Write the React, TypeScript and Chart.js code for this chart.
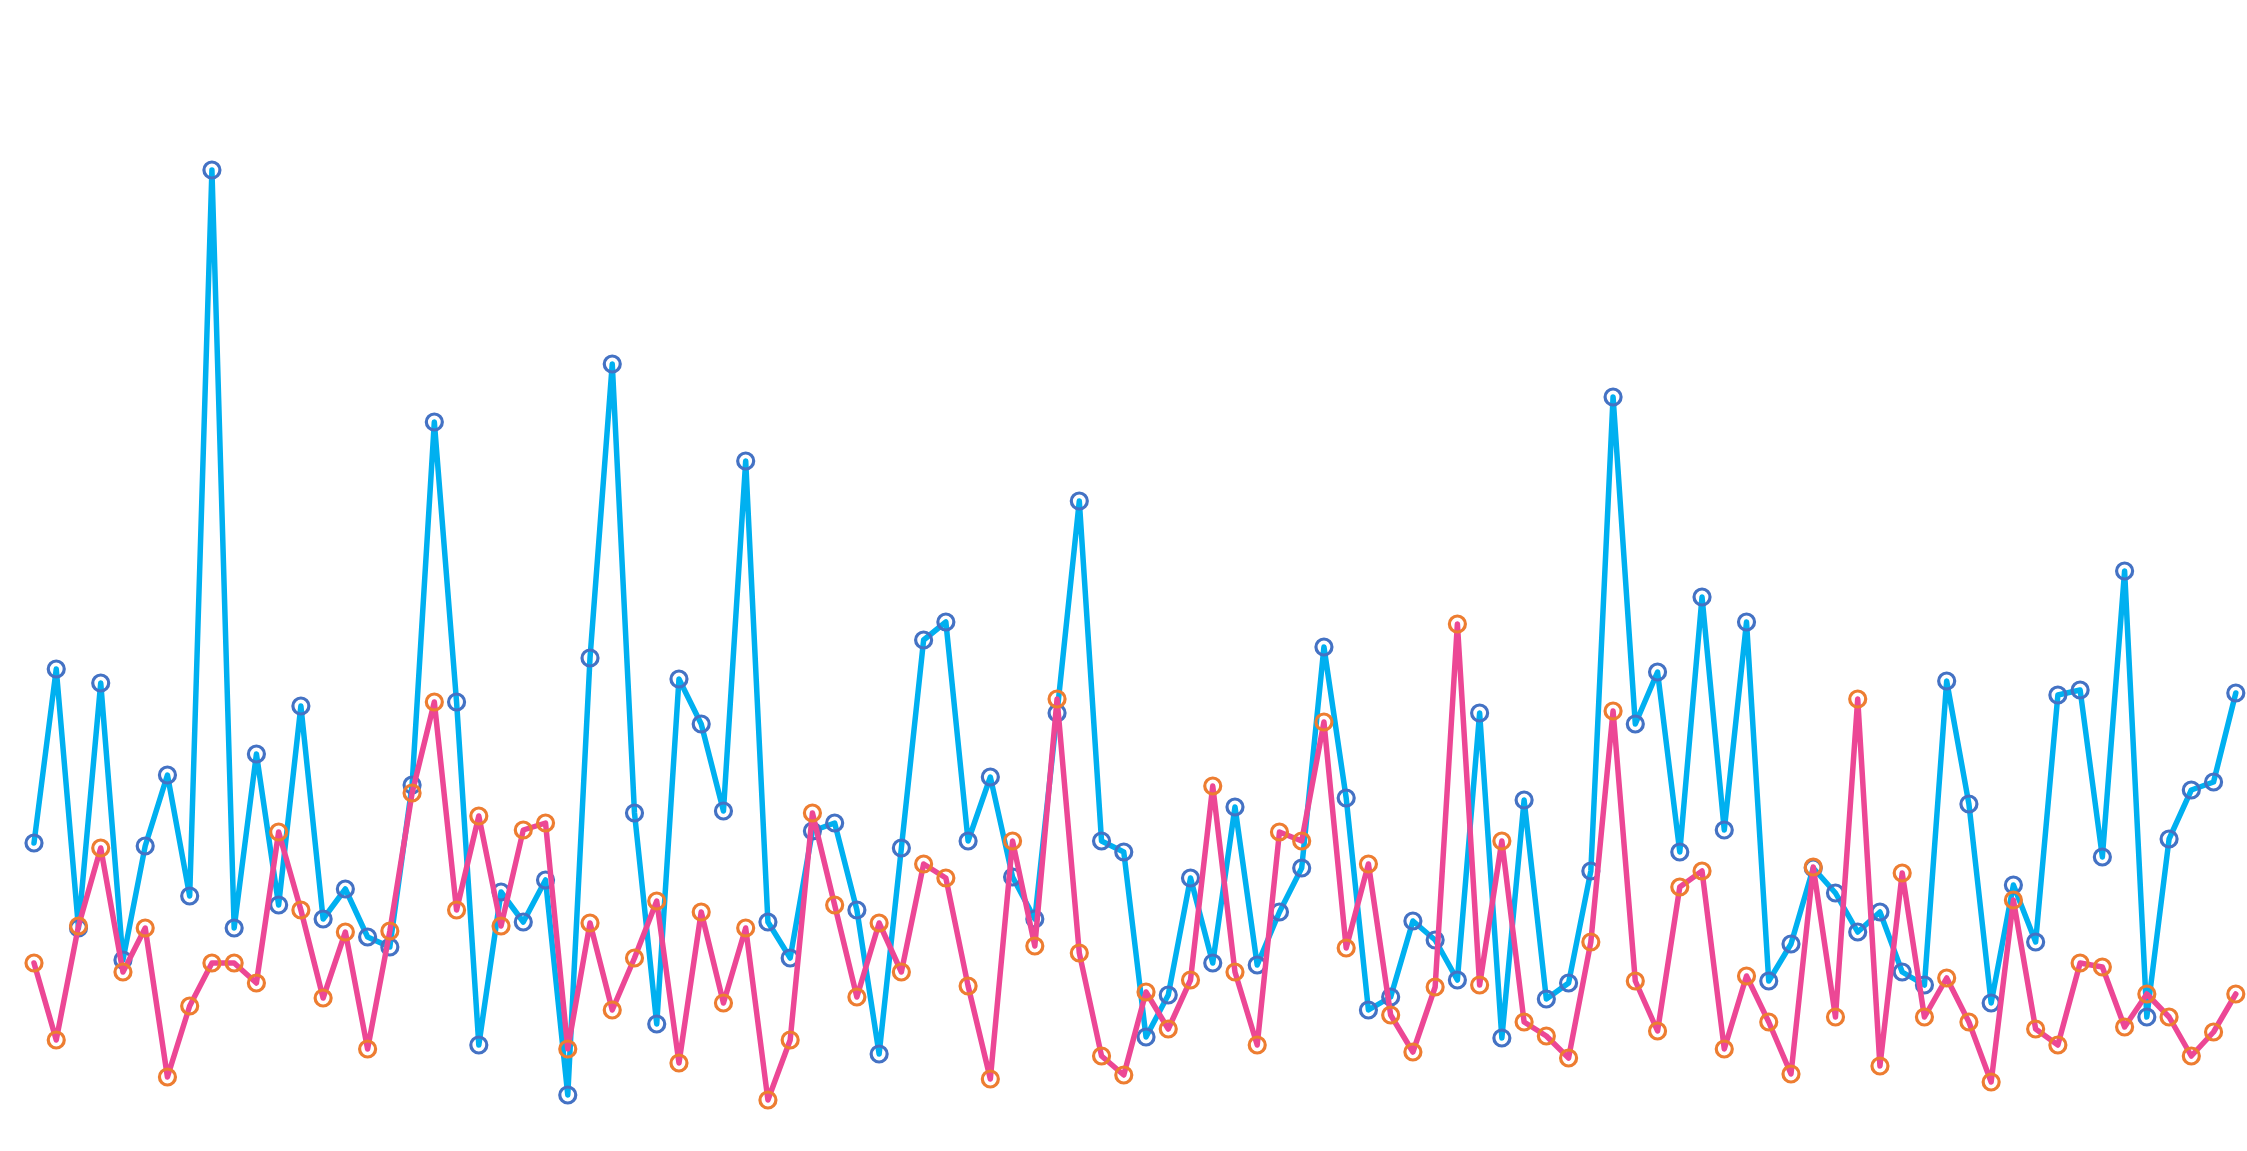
import React, { useEffect, useRef } from "react";
import { Chart, registerables } from "chart.js";

Chart.register(...registerables);

const labels: string[] = Array.from({ length: 100 }, (_, i) => String(i + 1));

const seriesA: number[] = [
  28.7, 46.1, 20.2, 44.7, 17.0, 28.4, 35.5, 23.4, 96.0, 20.2,
  37.6, 22.5, 42.4, 21.1, 24.1, 19.3, 18.3, 34.5, 70.8, 42.8,
  8.5, 23.8, 20.8, 25.0, 3.5, 47.2, 76.6, 31.7, 10.6, 45.1,
  40.6, 31.9, 66.9, 20.8, 17.2, 29.9, 30.7, 22.0, 7.6, 28.2,
  49.0, 50.8, 28.9, 35.3, 25.3, 21.1, 41.7, 62.9, 28.9, 27.8,
  9.3, 13.5, 25.2, 16.7, 32.3, 16.5, 21.8, 26.2, 48.3, 33.2,
  12.0, 13.3, 20.9, 19.0, 15.0, 41.7, 9.2, 33.0, 13.1, 14.7,
  25.9, 73.3, 40.6, 45.8, 27.8, 53.3, 30.0, 50.8, 14.9, 18.6,
  26.2, 23.7, 19.8, 21.8, 15.8, 14.5, 44.9, 32.6, 12.7, 24.5,
  18.8, 43.5, 44.0, 27.3, 55.9, 11.3, 29.1, 34.0, 34.8, 43.7,
];

const seriesB: number[] = [
  16.7, 9.0, 20.4, 28.2, 15.8, 20.2, 5.3, 12.4, 16.7, 16.7,
  14.7, 29.8, 22.0, 13.2, 19.8, 8.1, 19.9, 33.7, 42.8, 22.0,
  31.4, 20.4, 30.0, 30.7, 8.1, 20.7, 12.0, 17.2, 22.9, 6.7,
  21.8, 12.7, 20.2, 3.0, 9.0, 31.7, 22.5, 13.3, 20.7, 15.8,
  26.6, 25.2, 14.4, 5.1, 28.9, 18.4, 43.1, 17.7, 7.4, 5.5,
  13.8, 10.1, 15.0, 34.4, 15.8, 8.5, 29.8, 28.9, 40.8, 18.2,
  26.6, 11.5, 7.8, 14.3, 50.6, 14.5, 28.9, 10.8, 9.4, 7.2,
  18.8, 41.9, 14.9, 9.9, 24.3, 25.9, 8.1, 15.4, 10.8, 5.6,
  26.3, 11.3, 43.1, 6.4, 25.7, 11.3, 15.2, 10.8, 4.8, 23.0,
  10.1, 8.5, 16.7, 16.3, 10.3, 13.6, 11.3, 7.4, 9.8, 13.6,
];

export default function App() {
  const ref = useRef<HTMLCanvasElement | null>(null);

  useEffect(() => {
    if (!ref.current) return;
    const chart = new Chart(ref.current, {
      type: "line",
      data: {
        labels,
        datasets: [
          {
            label: "Series 1",
            data: seriesA,
            borderColor: "#00B0F0",
            borderWidth: 5.5,
            borderJoinStyle: "round",
            borderCapStyle: "round",
            pointRadius: 8,
            pointBorderWidth: 3.2,
            pointBorderColor: "#4472C4",
            pointBackgroundColor: "rgba(0,0,0,0)",
            tension: 0,
            clip: false,
            order: 2,
          },
          {
            label: "Series 2",
            data: seriesB,
            borderColor: "#EC4795",
            borderWidth: 5.5,
            borderJoinStyle: "round",
            borderCapStyle: "round",
            pointRadius: 8,
            pointBorderWidth: 3.2,
            pointBorderColor: "#ED7D31",
            pointBackgroundColor: "rgba(0,0,0,0)",
            tension: 0,
            clip: false,
            order: 1,
          },
        ],
      },
      options: {
        responsive: false,
        animation: false,
        devicePixelRatio: 1,
        layout: { padding: { left: 34, right: 8, top: 130, bottom: 21 } },
        plugins: { legend: { display: false }, tooltip: { enabled: false } },
        scales: {
          x: { display: false },
          y: { display: false, min: 0, max: 100 },
        },
      },
    });
    return () => chart.destroy();
  }, []);

  return (
    <div style={{ position: "fixed", left: 0, top: 0, width: 2247, height: 1151, background: "#fff" }}>
      <canvas ref={ref} width={2247} height={1151} style={{ display: "block" }} />
    </div>
  );
}
